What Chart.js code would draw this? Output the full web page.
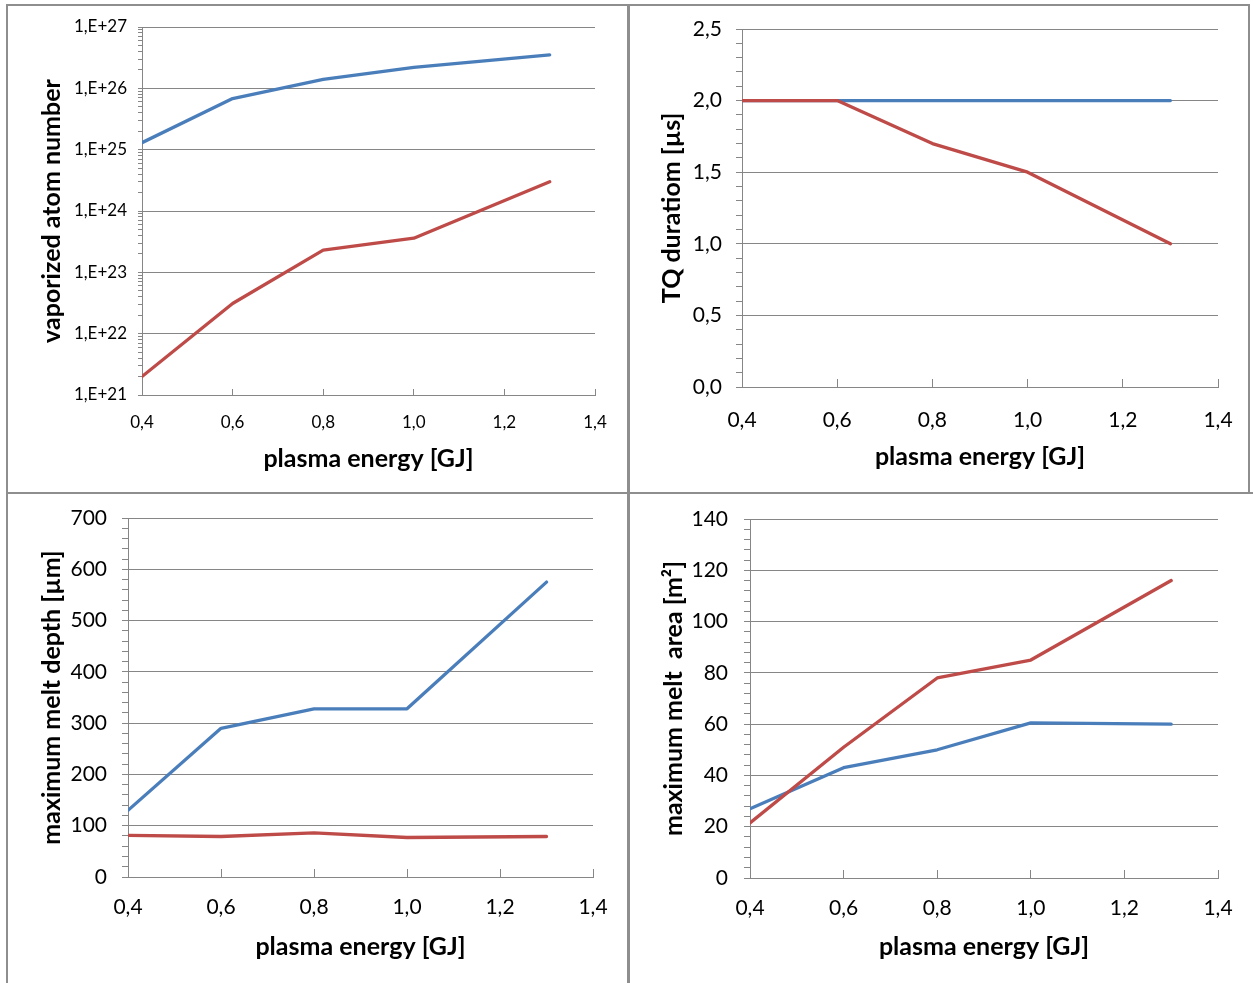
<!DOCTYPE html>
<html><head><meta charset="utf-8">
<script src="https://cdn.jsdelivr.net/npm/chart.js@4.4.1/dist/chart.umd.min.js"></script>
<style>
html,body{margin:0;padding:0;background:#fff;}
#wrap{position:relative;width:1253px;height:983px;overflow:hidden;background:#fff;}
canvas{position:absolute;left:0;top:0;}
.ln{position:absolute;background:#8e8e8e;}
</style></head><body>
<div id="wrap">
<div class="ln" style="left:6px;top:4px;width:1244px;height:2px"></div>
<div class="ln" style="left:6px;top:4px;width:2px;height:979px"></div>
<div class="ln" style="left:627px;top:4px;width:3px;height:979px"></div>
<div class="ln" style="left:6px;top:492px;width:1247px;height:2px"></div>
<div class="ln" style="left:1248px;top:4px;width:2px;height:490px"></div>
<canvas id="c1" width="1253" height="983"></canvas>
<canvas id="c2" width="1253" height="983"></canvas>
<canvas id="c3" width="1253" height="983"></canvas>
<canvas id="c4" width="1253" height="983"></canvas>
</div>
<script>
// ---------- data ----------
const energy = [0.4, 0.6, 0.8, 1.0, 1.3];
const xTickValues = [0.4, 0.6, 0.8, 1.0, 1.2, 1.4];
const xTickLabels = ['0,4', '0,6', '0,8', '1,0', '1,2', '1,4'];

const vaporBlue = [1.3e25, 6.8e25, 1.4e26, 2.2e26, 3.5e26];
const vaporRed  = [2.0e21, 3.1e22, 2.3e23, 3.6e23, 3.0e24];
const vaporTickValues = [1e21, 1e22, 1e23, 1e24, 1e25, 1e26, 1e27];
const vaporTickLabels = ['1,E+21', '1,E+22', '1,E+23', '1,E+24', '1,E+25', '1,E+26', '1,E+27'];

const tqBlue = [2.0, 2.0, 2.0, 2.0, 2.0];
const tqRed  = [2.0, 2.0, 1.7, 1.5, 1.0];
const tqTickValues = [0, 0.5, 1.0, 1.5, 2.0, 2.5];
const tqTickLabels = ['0,0', '0,5', '1,0', '1,5', '2,0', '2,5'];

const depthBlue = [130, 290, 328, 328, 575];
const depthRed  = [81, 79, 86, 77, 79];
const depthTickValues = [0, 100, 200, 300, 400, 500, 600, 700];
const depthTickLabels = ['0', '100', '200', '300', '400', '500', '600', '700'];

const areaBlue = [27, 43, 50, 60.5, 60];
const areaRed  = [21.5, 51, 78, 85, 116];
const areaTickValues = [0, 20, 40, 60, 80, 100, 120, 140];
const areaTickLabels = ['0', '20', '40', '60', '80', '100', '120', '140'];

// ---------- style ----------
const BLUE = '#4a7ebb', RED = '#be4b48', GRID = '#868686', TXT = '#000';
const FONT = 'Lato';

function labelFor(values, labels, v) {
  for (let i = 0; i < values.length; i++) {
    if (Math.abs(values[i] - v) <= Math.abs(values[i]) * 1e-9 + 1e-9) return labels[i];
  }
  return '';
}

function linearTicks(values, minorDiv) {
  const out = [];
  for (let i = 0; i < values.length - 1; i++) {
    const a = values[i], b = values[i + 1];
    for (let k = 0; k < minorDiv; k++) out.push(a + (b - a) * k / minorDiv);
  }
  out.push(values[values.length - 1]);
  return out;
}
function logTicks(values) {
  const out = [];
  for (let i = 0; i < values.length - 1; i++) {
    for (let m = 1; m <= 9; m++) out.push(values[i] * m);
  }
  out.push(values[values.length - 1]);
  return out;
}

function pts(ys) { return energy.map((x, i) => ({x: x, y: ys[i]})); }

function makeChart(id, o) {
  const isMajor = v => labelFor(o.yValues, o.yLabels, v) !== '';
  const yList = o.log ? logTicks(o.yValues) : linearTicks(o.yValues, o.minorDiv);
  const lineStyle = {borderWidth: 3.3, pointRadius: 0, tension: 0, fill: false,
                     borderCapStyle: 'round', borderJoinStyle: 'round'};
  return new Chart(document.getElementById(id), {
    type: 'line',
    data: {
      datasets: [
        Object.assign({data: pts(o.red), borderColor: RED}, lineStyle),
        Object.assign({data: pts(o.blue), borderColor: BLUE}, lineStyle)
      ]
    },
    options: {
      responsive: false, animation: false, events: [],
      layout: {autoPadding: false, padding: o.pad},
      plugins: {legend: {display: false}, tooltip: {enabled: false}},
      scales: {
        x: {
          type: 'linear', min: xTickValues[0], max: xTickValues[xTickValues.length - 1],
          afterBuildTicks: s => { s.ticks = xTickValues.map(v => ({value: v})); },
          afterFit: s => { s.height = o.xH; s.paddingLeft = 0; s.paddingRight = 0; },
          ticks: {autoSkip: false, maxRotation: 0, minRotation: 0, padding: o.xPad, color: TXT,
                  font: {family: FONT, size: o.fs},
                  callback: v => labelFor(xTickValues, xTickLabels, v)},
          grid: {drawOnChartArea: false, tickColor: GRID, tickLength: -o.xTl, tickWidth: 1},
          border: {color: GRID, width: 1},
          title: {display: true, text: 'plasma energy [GJ]', color: '#000', padding: 0,
                  font: {family: FONT, size: 25, weight: 'bold'}}
        },
        y: {
          type: o.log ? 'logarithmic' : 'linear',
          min: o.yValues[0], max: o.yValues[o.yValues.length - 1],
          afterBuildTicks: s => { s.ticks = yList.map(v => ({value: v})); },
          afterFit: s => { s.width = o.yW; s.paddingTop = 0; s.paddingBottom = 0; },
          ticks: {autoSkip: false, padding: o.yPad, color: TXT,
                  font: {family: FONT, size: o.fs},
                  callback: v => labelFor(o.yValues, o.yLabels, v)},
          grid: {color: c => (c.tick && isMajor(c.tick.value)) ? GRID : 'rgba(0,0,0,0)',
                 tickColor: GRID, tickLength: o.yTl, lineWidth: 1, tickWidth: 1},
          border: {color: GRID, width: 1},
          title: {display: true, text: o.yTitle, color: '#000', padding: 0,
                  font: {family: FONT, size: 25, weight: 'bold'}}
        }
      }
    }
  });
}

function draw() {
  makeChart('c1', {
    red: vaporRed, blue: vaporBlue, log: true,
    yValues: vaporTickValues, yLabels: vaporTickLabels,
    yTitle: 'vaporized atom number', fs: 17,
    pad: {left: 37, top: 27, right: 658, bottom: 509}, yW: 105, xH: 79,
    xPad: 23, xTl: 6, yPad: 11, yTl: 4
  });
  makeChart('c2', {
    red: tqRed, blue: tqBlue, log: false, minorDiv: 5,
    yValues: tqTickValues, yLabels: tqTickLabels,
    yTitle: 'TQ duratiom [µs]', fs: 21,
    pad: {left: 657, top: 29, right: 35, bottom: 511}, yW: 85, xH: 85,
    xPad: 29, xTl: 8, yPad: 14, yTl: 6
  });
  makeChart('c3', {
    red: depthRed, blue: depthBlue, log: false, minorDiv: 5,
    yValues: depthTickValues, yLabels: depthTickLabels,
    yTitle: 'maximum melt depth [µm]', fs: 21,
    pad: {left: 37, top: 518, right: 660, bottom: 21}, yW: 91, xH: 85,
    xPad: 26, xTl: 8, yPad: 15, yTl: 6
  });
  makeChart('c4', {
    red: areaRed, blue: areaBlue, log: false, minorDiv: 5,
    yValues: areaTickValues, yLabels: areaTickLabels,
    yTitle: 'maximum melt  area [m²]', fs: 21,
    pad: {left: 659, top: 519, right: 35, bottom: 21}, yW: 91, xH: 84,
    xPad: 26, xTl: 8, yPad: 16, yTl: 6
  });
}

Promise.all([
  document.fonts.load('17px Lato'), document.fonts.load('bold 25px Lato')
]).then(draw, draw);
</script>
</body></html>
